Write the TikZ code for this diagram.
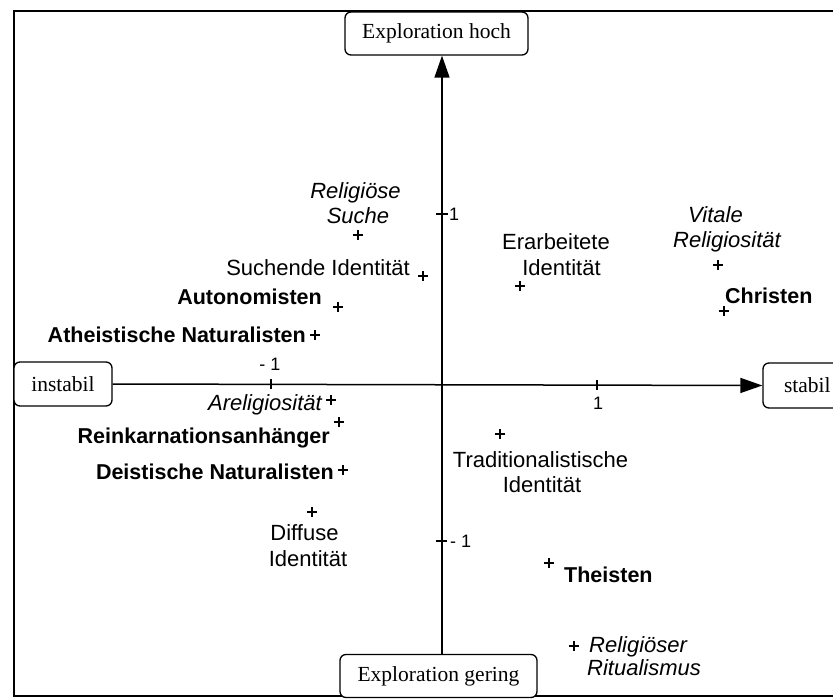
\documentclass[tikz,border=0pt]{standalone}
\usepackage{fontspec}
\setmainfont{Liberation Sans}
\newfontfamily\boxfont{Liberation Serif}
\usetikzlibrary{arrows.meta}
\begin{document}
\begin{tikzpicture}[x=1pt,y=-1pt,
  frame/.style={line width=1.6pt},
  axis/.style={line width=1.5pt},
  tip/.style={-{Triangle[length=22pt,width=15pt]}},
  tick/.style={line width=1.3pt},
  ticklbl/.style={inner sep=0pt,font=\fontsize{18}{18}\selectfont},
  endbox/.style={draw,line width=1.3pt,rounded corners=6pt,fill=white,
    inner sep=0pt,font=\boxfont\fontsize{21.5}{21.5}\selectfont},
  mk/.style={inner sep=0pt,minimum size=10pt,
    path picture={\draw[line width=1.3pt]
      (path picture bounding box.north) -- (path picture bounding box.south)
      (path picture bounding box.west) -- (path picture bounding box.east);}},
  lbl/.style={inner sep=0pt,font=\fontsize{22}{22}\selectfont},
  grp/.style={lbl,font=\bfseries\fontsize{21.5}{21.5}\selectfont},
  rel/.style={lbl,font=\itshape\fontsize{22}{22}\selectfont}]

\clip (0,0) rectangle (833,699);
\fill[white] (0,0) rectangle (833,699);

% outer frame
\draw[frame] (14,11) rectangle (880,696);

% axis end boxes
\node[endbox,minimum width=183pt,minimum height=43pt] (hoch) at (436.5,33.5) {Exploration hoch};
\node[endbox,minimum width=197pt,minimum height=43pt] (gering) at (438.5,676) {Exploration gering};
\node[endbox,minimum width=98pt,minimum height=44pt] (instabil) at (63,384) {instabil};
\node[endbox,minimum width=130pt,minimum height=45pt,text width=110pt,align=left] (stabil) at (828,385.5) {\hspace*{11pt}stabil};

% axes
\coordinate (O) at (442,384);
\draw[axis,tip] (instabil.east) -- (stabil.west);
\draw[axis,tip] (O |- gering.north) -- (O |- hoch.south);

% ticks and tick labels
\draw[tick] (271,379) -- (271,389);
\node[ticklbl] (xm1) at (270,364) {- 1};
\draw[tick] (597,380) -- (597,390);
\node[ticklbl] (xp1) at (598,403) {1};
\draw[tick] (436,214) -- (448,214);
\node[ticklbl,anchor=west] (yp1) at (449,214) {1};
\draw[tick] (436,541) -- (447,541);
\node[ticklbl,anchor=west] (ym1) at (450,541) {- 1};

% left half
\node[mk] (pRS) at (358,235) {};
\node[rel,anchor=base] (tRS1) at (355.5,198) {Religiöse};
\node[rel,anchor=base] (tRS2) at (358,223) {Suche};

\node[mk] (pSI) at (423,276) {};
\node[lbl,anchor=base east] (tSI) at (410,275) {Suchende Identität};

\node[mk] (pAu) at (338,307) {};
\node[grp,anchor=base east] (tAu) at (322,304) {Autonomisten};

\node[mk] (pAN) at (315,335) {};
\node[grp,anchor=base east] (tAN) at (306,342) {Atheistische Naturalisten};

\node[mk] (pAR) at (331,400) {};
\node[rel,anchor=base east] (tAR) at (322,410) {Areligiosität};

\node[mk] (pRA) at (339,422) {};
\node[grp,anchor=base east] (tRA) at (330,443) {Reinkarnationsanhänger};

\node[mk] (pDN) at (343,470) {};
\node[grp,anchor=base east] (tDN) at (334,479) {Deistische Naturalisten};

\node[mk] (pDI) at (312,512) {};
\node[lbl,anchor=base] (tDI1) at (304.5,540) {Diffuse};
\node[lbl,anchor=base] (tDI2) at (308,566) {Identität};

% right half
\node[mk] (pEI) at (520,286) {};
\node[lbl,anchor=base] (tEI1) at (556,249) {Erarbeitete};
\node[lbl,anchor=base] (tEI2) at (561.5,275) {Identität};

\node[mk] (pVR) at (718,265) {};
\node[rel,anchor=base] (tVR1) at (715.5,222) {Vitale};
\node[rel,anchor=base] (tVR2) at (727,247) {Religiosität};

\node[mk] (pCh) at (724,311) {};
\node[grp,anchor=base west] (tCh) at (725,303) {Christen};

\node[mk] (pTI) at (500,434) {};
\node[lbl,anchor=base] (tTI1) at (540.5,467) {Traditionalistische};
\node[lbl,anchor=base] (tTI2) at (542,492) {Identität};

\node[mk] (pTh) at (549,563) {};
\node[grp,anchor=base west] (tTh) at (564,582) {Theisten};

\node[mk] (pRR) at (574,646) {};
\node[rel,anchor=base west] (tRR1) at (589,652) {Religiöser};
\node[rel,anchor=base west] (tRR2) at (587,675) {Ritualismus};

\end{tikzpicture}
\end{document}
